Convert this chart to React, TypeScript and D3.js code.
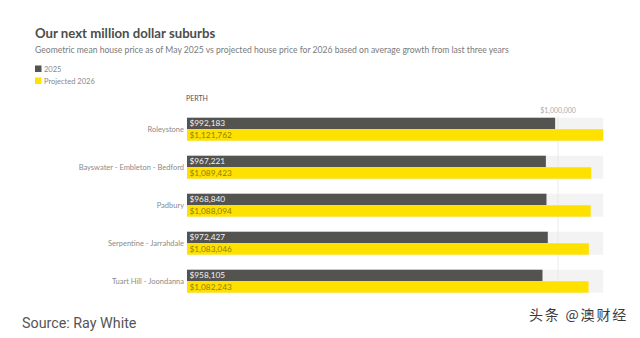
import { useEffect, useRef } from "react";
import * as d3 from "d3";

const WIDTH = 640;
const HEIGHT = 338;

const suburbs = [
  "Roleystone",
  "Bayswater - Embleton - Bedford",
  "Padbury",
  "Serpentine - Jarrahdale",
  "Tuart Hill - Joondanna",
];
const price2025 = [992183, 967221, 968840, 972427, 958105];
const projected2026 = [1121762, 1089423, 1088094, 1083046, 1082243];
const seriesNames = ["2025", "Projected 2026"];
const seriesColors = ["#53534f", "#ffe100"];
const labelColors = ["#f2f2f2", "#8f7f00"];
const tickValues = [1000000];

const fmt = d3.format("$,");

export default function App() {
  const svgRef = useRef<SVGSVGElement | null>(null);

  useEffect(() => {
    document.body.style.margin = "0";
    if (!svgRef.current) return;
    const svg = d3.select(svgRef.current);
    svg.selectAll("*").remove();

    const series = [price2025, projected2026];
    const maxVal = d3.max(projected2026) ?? 0;

    const x = d3.scaleLinear().domain([0, maxVal]).range([187, 603.2]);
    const y = d3
      .scaleBand()
      .domain(suburbs)
      .range([117.7, 292.7])
      .paddingInner(0.395)
      .paddingOuter(0);
    const ySub = d3.scaleBand().domain(seriesNames).range([0, y.bandwidth()]);

    // Title + subtitle
    svg
      .append("text")
      .attr("x", 35)
      .attr("y", 38)
      .attr("fill", "#4d4d4d")
      .style("font-family", "Lato")
      .style("font-weight", "700")
      .style("font-size", "13.2px")
      .text("Our next million dollar suburbs");

    svg
      .append("text")
      .attr("x", 35)
      .attr("y", 53)
      .attr("fill", "#7a7a7a")
      .style("font-family", "Lato")
      .style("font-size", "8.6px")
      .text(
        "Geometric mean house price as of May 2025 vs projected house price for 2026 based on average growth from last three years",
      );

    // Legend
    const legend = svg.append("g").attr("transform", "translate(35,65.5)");
    seriesNames.forEach((name, i) => {
      legend
        .append("rect")
        .attr("x", 0)
        .attr("y", i * 12)
        .attr("width", 6.5)
        .attr("height", 6.5)
        .attr("fill", seriesColors[i]);
      legend
        .append("text")
        .attr("x", 9)
        .attr("y", i * 12 + 6.3)
        .attr("fill", "#888")
        .style("font-family", "Lato")
        .style("font-size", "7.5px")
        .text(name);
    });

    // Facet header
    svg
      .append("text")
      .attr("x", 186)
      .attr("y", 101)
      .attr("fill", "#555")
      .style("font-family", "Lato")
      .style("font-size", "7px")
      .text("PERTH");

    const g = svg.append("g");

    // Background bands
    g.selectAll("rect.bg")
      .data(suburbs)
      .enter()
      .append("rect")
      .attr("class", "bg")
      .attr("x", x(0))
      .attr("y", (d) => y(d) ?? 0)
      .attr("width", x(maxVal) - x(0))
      .attr("height", y.bandwidth())
      .attr("fill", "#f3f3f3");

    // Gridline + tick label
    tickValues.forEach((t) => {
      g.append("line")
        .attr("x1", x(t))
        .attr("x2", x(t))
        .attr("y1", 115)
        .attr("y2", 294)
        .attr("stroke", "#e6e6e6")
        .attr("stroke-width", 0.8);
      g.append("text")
        .attr("x", x(t))
        .attr("y", 113)
        .attr("text-anchor", "middle")
        .attr("fill", "#aaa")
        .style("font-family", "Lato")
        .style("font-size", "7px")
        .text(fmt(t));
    });

    // Bars
    series.forEach((vals, si) => {
      g.selectAll(`rect.s${si}`)
        .data(vals)
        .enter()
        .append("rect")
        .attr("class", `s${si}`)
        .attr("x", x(0))
        .attr("y", (_, i) => (y(suburbs[i]) ?? 0) + (ySub(seriesNames[si]) ?? 0))
        .attr("width", (d) => x(d) - x(0))
        .attr("height", ySub.bandwidth())
        .attr("fill", seriesColors[si]);

      g.selectAll(`text.s${si}`)
        .data(vals)
        .enter()
        .append("text")
        .attr("class", `s${si}`)
        .attr("x", x(0) + 2.5)
        .attr(
          "y",
          (_, i) =>
            (y(suburbs[i]) ?? 0) + (ySub(seriesNames[si]) ?? 0) + ySub.bandwidth() / 2,
        )
        .attr("dy", "0.35em")
        .attr("fill", labelColors[si])
        .style("font-family", "Lato")
        .style("font-size", "8.3px")
        .text((d) => fmt(d));
    });

    // Category labels
    g.selectAll("text.cat")
      .data(suburbs)
      .enter()
      .append("text")
      .attr("class", "cat")
      .attr("x", 184)
      .attr("y", (d) => (y(d) ?? 0) + y.bandwidth() / 2)
      .attr("dy", "0.35em")
      .attr("text-anchor", "end")
      .attr("fill", "#8a8a8a")
      .style("font-family", "Lato")
      .style("font-size", "7.5px")
      .text((d) => d);

    // Source + watermark
    svg
      .append("text")
      .attr("x", 22)
      .attr("y", 328)
      .attr("fill", "#555")
      .style("font-family", "Roboto")
      .style("font-size", "14.3px")
      .text("Source: Ray White");

    svg
      .append("text")
      .attr("x", 529)
      .attr("y", 320)
      .attr("fill", "#3a3a3a")
      .style("font-family", "Noto Sans CJK SC")
      .style("font-size", "14px")
      .style("letter-spacing", "1.8px")
      .text("头条 @澳财经");
  }, []);

  return (
    <svg
      ref={svgRef}
      width={WIDTH}
      height={HEIGHT}
      style={{ display: "block", background: "#fff" }}
    />
  );
}
